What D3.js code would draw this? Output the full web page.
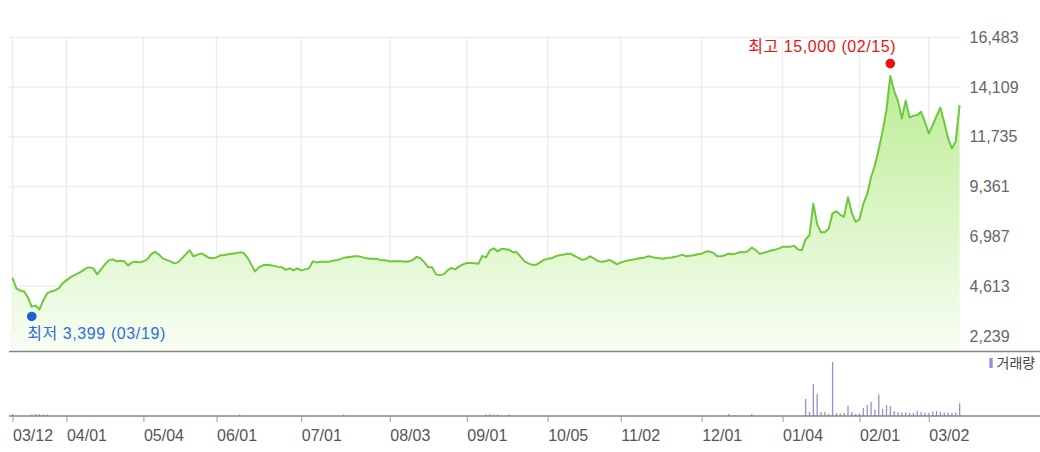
<!DOCTYPE html>
<html><head><meta charset="utf-8">
<script src="https://cdn.jsdelivr.net/npm/d3@7"></script>
<style>
html,body{margin:0;padding:0;background:#fff;}
svg{display:block;font-family:"Liberation Sans","Noto Sans CJK KR",sans-serif;}
</style></head><body>
<svg id="chart" width="1040" height="452"></svg>
<script>
// ---- data ----
const startDate = "2020-03-12";
const endDate = "2021-03-12";
const holidays = ["2020-04-15","2020-04-30","2020-05-01","2020-05-05","2020-08-17","2020-09-30","2020-10-01","2020-10-02","2020-10-09","2020-12-25","2020-12-31","2021-01-01","2021-02-11","2021-02-12","2021-03-01"];

const closes = [
5009,4507,4411,4363,4077,3623,3695,3504,3933,4268,4363,4411,4507,4746,4889,
5033,5128,5224,5320,5463,5511,5463,5176,5415,5654,5845,5893,5797,5821,5797,5606,5749,5773,5749,5797,
5893,6132,6251,6132,5940,5869,5797,5702,5749,5940,6132,6323,6036,6108,6179,6084,5964,5940,5988,
6084,6084,6132,6155,6179,6227,6203,5988,5654,5319,5511,5606,5630,5606,5582,5534,5511,5391,5463,5367,5463,5367,
5415,5463,5797,5749,5773,5773,5773,5821,5845,5893,5964,5988,6012,6036,6036,5988,5940,5917,5917,5893,5845,5845,5797,
5797,5797,5797,5773,5797,5869,6012,5940,5749,5511,5511,5176,5152,5176,5367,5487,5415,5558,5654,5716,
5716,5702,5678,6060,5988,6323,6418,6275,6394,6370,6346,6227,6227,6012,5797,5702,5630,5630,5749,5869,5917,
5940,6036,6084,6108,6155,6155,6060,5964,5869,5917,6036,5940,5821,5773,5797,5869,5773,5654,5749,
5797,5845,5869,5917,5940,5964,6036,6012,5964,5940,5926,5964,5973,6012,6060,6117,6036,6060,6084,6132,6165,
6251,6275,6203,6036,6036,6084,6165,6132,6179,6241,6227,6275,6451,6346,6165,6194,6251,6313,6346,6404,6490,
6490,6490,6537,6370,6323,6848,7039,8544,7564,7182,7182,7349,8090,8185,8018,7922,8854,8114,7684,7803,
8544,8998,9810,10383,11147,12007,13010,14634,13918,13440,12614,13464,12652,12747,12771,12929,12437,11897,12294,12723,13130,12437,11673,11181,11529,13249
];

const volDates = ["2020-03-12","2020-03-19","2020-03-20","2020-03-23","2020-03-24","2020-03-25","2020-06-09","2020-07-16",
"2020-09-08","2020-09-09","2020-09-10","2020-09-11","2020-09-16","2020-12-10","2020-12-18",
"2021-01-12","2021-01-13","2021-01-14","2021-01-15","2021-01-18","2021-01-19","2021-01-20","2021-01-21","2021-01-22","2021-01-25","2021-01-26","2021-01-27","2021-01-28","2021-01-29",
"2021-02-01","2021-02-02","2021-02-03","2021-02-04","2021-02-05","2021-02-08","2021-02-09","2021-02-10","2021-02-15","2021-02-16","2021-02-17","2021-02-18","2021-02-19","2021-02-22","2021-02-23","2021-02-24","2021-02-25","2021-02-26",
"2021-03-02","2021-03-03","2021-03-04","2021-03-05","2021-03-08","2021-03-09","2021-03-10","2021-03-11","2021-03-12"];
const volValues = [2000,1500,2000,2000,1500,1500,1500,1500,
1500,2000,1500,1500,1500,2000,2000,
17000,4000,32000,22000,4000,4000,2000,54000,3000,2500,3000,10000,4000,2000,
2500,8000,11000,14000,6500,21500,7000,11000,10000,5000,4000,3500,3500,3000,3000,5000,4000,3500,
3000,4500,5000,4000,3500,3500,3000,3500,12700];

const tickDates = ["2020-03-12","2020-04-01","2020-05-04","2020-06-01","2020-07-01","2020-08-03","2020-09-01","2020-10-05","2020-11-02","2020-12-01","2021-01-04","2021-02-01","2021-03-02"];
const tickLabels = ["03/12","04/01","05/04","06/01","07/01","08/03","09/01","10/05","11/02","12/01","01/04","02/01","03/02"];
const yTicks = [2239,4613,6987,9361,11735,14109,16483];

const extremeDates = ["2021-02-15","2020-03-19"];
const extremeValues = [15000,3399];
const extremeNames = ["최고","최저"];
const legendLabel = "거래량";

// ---- trading calendar ----
const fmt = d3.timeFormat("%Y-%m-%d");
const hol = new Set(holidays);
const days = d3.timeDay.range(new Date(startDate+"T00:00:00"), d3.timeDay.offset(new Date(endDate+"T00:00:00"),1))
  .filter(d => d.getDay()!==0 && d.getDay()!==6 && !hol.has(fmt(d))).map(fmt);
const n = Math.min(days.length, closes.length);
const series = d3.range(n).map(i => ({date: days[i], v: closes[i]}));

// ---- scales ----
const svg = d3.select("#chart");
const plotL = 12.5, plotR = 959.6, priceTop = 37.3, priceBot = 351.5, volBase = 416;
const x = d3.scalePoint().domain(days.slice(0,n)).range([plotL, plotR]);
const y = d3.scaleLinear().domain([1498, 16483]).range([priceBot, priceTop]);
const yv = d3.scaleLinear().domain([0, 60000]).range([volBase, volBase-60]);

// gradient
const defs = svg.append("defs");
const grad = defs.append("linearGradient").attr("id","ag").attr("gradientUnits","userSpaceOnUse")
  .attr("x1",0).attr("x2",0).attr("y1",priceTop).attr("y2",priceBot);
grad.append("stop").attr("offset","0%").attr("stop-color","#b4ea86");
grad.append("stop").attr("offset","100%").attr("stop-color","#f8fef4");

// grid
svg.append("g").selectAll("line").data(yTicks).join("line")
  .attr("x1",9).attr("x2",plotR+0.5).attr("y1",d=>y(d)).attr("y2",d=>y(d))
  .attr("stroke","#ececec").attr("stroke-width",1.3);
svg.append("g").selectAll("line").data(tickDates).join("line")
  .attr("x1",d=>x(d)).attr("x2",d=>x(d)).attr("y1",priceTop).attr("y2",priceBot)
  .attr("stroke","#ececec").attr("stroke-width",1.3);

// area + line
svg.append("path").datum(series)
  .attr("d", d3.area().x(d=>x(d.date)).y0(priceBot).y1(d=>y(d.v)))
  .attr("fill","url(#ag)");
svg.append("path").datum(series)
  .attr("d", d3.line().x(d=>x(d.date)).y(d=>y(d.v)))
  .attr("fill","none").attr("stroke","#6cc93a").attr("stroke-width",2).attr("stroke-linejoin","round");

// separators
svg.append("line").attr("x1",9).attr("x2",1040).attr("y1",priceBot).attr("y2",priceBot)
  .attr("stroke","#858585").attr("stroke-width",1.5);

// volume bars
svg.append("g").selectAll("rect").data(volDates.map((d,i)=>({date:d, v:volValues[i]}))).join("rect")
  .attr("x",d=>x(d.date)-0.6).attr("width",1.3)
  .attr("y",d=>yv(d.v)).attr("height",d=>volBase-yv(d.v))
  .attr("fill","#9d8cd6");

svg.append("line").attr("x1",9).attr("x2",1040).attr("y1",volBase).attr("y2",volBase)
  .attr("stroke","#858585").attr("stroke-width",1.5);

// right axis
const ra = svg.append("g").attr("transform",`translate(${plotR},0)`)
  .call(d3.axisRight(y).tickValues(yTicks).tickFormat(d3.format(",")).tickSize(0).tickPadding(10));
ra.select(".domain").remove();
ra.selectAll("text").attr("font-size",16).attr("fill","#666").attr("font-family","Liberation Sans, sans-serif");

// bottom axis
const ba = svg.append("g").attr("transform",`translate(0,${volBase})`)
  .call(d3.axisBottom(x).tickValues(tickDates).tickFormat((d,i)=>tickLabels[i]).tickSize(6));
ba.select(".domain").remove();
ba.selectAll(".tick line").attr("stroke","#999");
ba.selectAll("text").attr("font-size",16).attr("fill","#555").attr("text-anchor","start")
  .attr("x",0).attr("y",19.5).attr("dy","0.35em").attr("font-family","Liberation Sans, sans-serif");

// extremes
const fmtN = d3.format(",");
const fmtMD = d => d.slice(5,7)+"/"+d.slice(8,10);
const r = 4.8;
// high
{
  const cx = x(extremeDates[0]), cy = y(extremeValues[0]) - r;
  svg.append("circle").attr("cx",cx).attr("cy",cy).attr("r",r).attr("fill","#f01010");
  svg.append("text").attr("x",cx+6).attr("y",cy-17).attr("dy","0.35em").attr("text-anchor","end")
    .attr("font-size",16).attr("letter-spacing",0.6).attr("fill","#ee1111")
    .text(`${extremeNames[0]} ${fmtN(extremeValues[0])} (${fmtMD(extremeDates[0])})`);
}
// low
{
  const cx = x(extremeDates[1]), cy = y(extremeValues[1]) + r;
  svg.append("circle").attr("cx",cx).attr("cy",cy).attr("r",r).attr("fill","#1d5fd8");
  svg.append("text").attr("x",cx-4.6).attr("y",cy+16.5).attr("dy","0.35em").attr("text-anchor","start")
    .attr("font-size",16).attr("letter-spacing",0.6).attr("fill","#2f6fd6")
    .text(`${extremeNames[1]} ${fmtN(extremeValues[1])} (${fmtMD(extremeDates[1])})`);
}

// legend
svg.append("rect").attr("x",989.3).attr("y",358).attr("width",3.4).attr("height",10).attr("fill","#9d8cd6");
svg.append("text").attr("x",996.5).attr("y",363.5).attr("dy","0.35em").attr("font-size",14)
  .attr("fill","#444").text(legendLabel);
</script>
</body></html>
